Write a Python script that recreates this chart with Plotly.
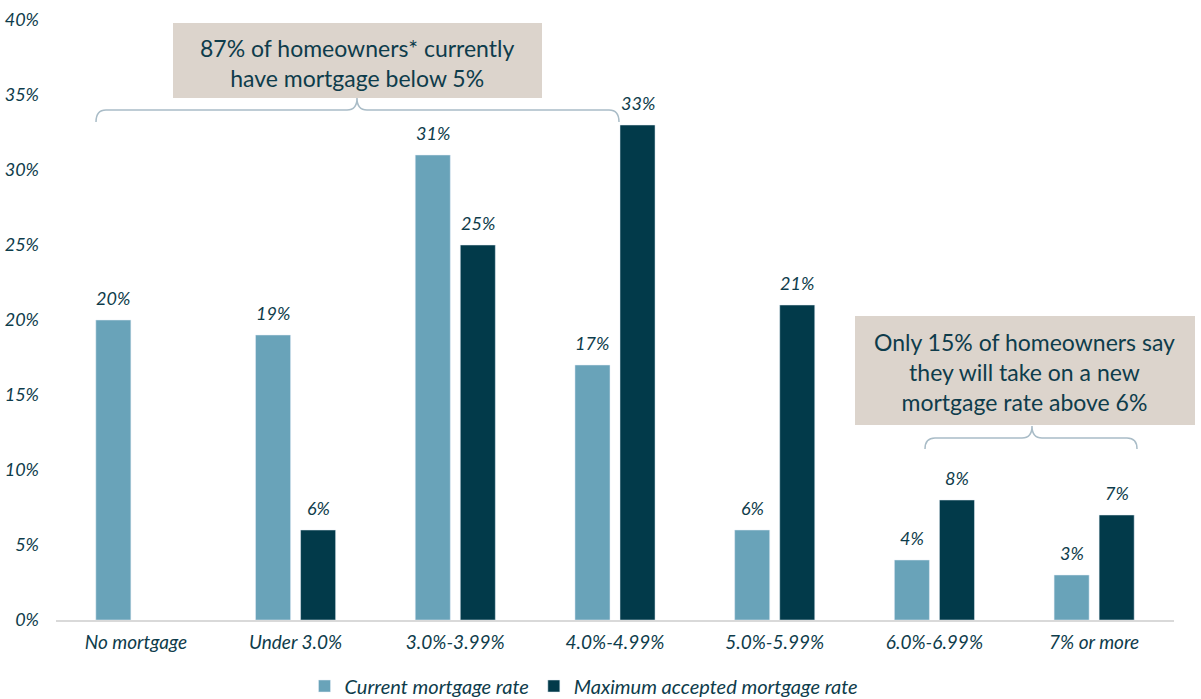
import plotly.graph_objects as go

categories = ["No mortgage", "Under 3.0%", "3.0%-3.99%", "4.0%-4.99%", "5.0%-5.99%", "6.0%-6.99%", "7% or more"]
current_rate = [20, 19, 31, 17, 6, 4, 3]
max_accepted = [None, 6, 25, 33, 21, 8, 7]
series_names = ["Current mortgage rate", "Maximum accepted mortgage rate"]
y_ticks = [0, 5, 10, 15, 20, 25, 30, 35, 40]
box1_text = "87% of homeowners* currently<br>have mortgage below 5%"
box2_text = "Only 15% of homeowners say<br>they will take on a new<br>mortgage rate above 6%"

LIGHT = "#69a3b9"
DARK = "#023a4a"
TEXT = "#0e3c4b"
BEIGE = "#dcd4cc"
BRACKET = "#a9bcc7"
FONT = "Lato"

W, H = 1201, 699
L, R, T, B = 56, 27, 20, 79
PW, PH = W - L - R, H - T - B
BARGAP = 0.436
BARGROUPGAP = 0.222


def px(x):
    return (x - L) / PW


def py(y):
    return (H - B - y) / PH


fig = go.Figure()
fig.add_trace(go.Bar(x=categories, y=current_rate, name=series_names[0], marker_color=LIGHT))
fig.add_trace(go.Bar(x=categories, y=max_accepted, name=series_names[1], marker_color=DARK))

# value labels as annotations placed from the data, offset to each bar of the group
slot = PW / len(categories) * (1 - BARGAP) / 2
annotations = []
for series, sgn in ((current_rate, -1), (max_accepted, 1)):
    for cat, v in zip(categories, series):
        if v is None:
            continue
        annotations.append(dict(
            x=cat, y=v, xref="x", yref="y", text=f"{v}%", showarrow=False,
            xanchor="center", yanchor="middle", xshift=sgn * slot / 2, yshift=22,
            font=dict(family=FONT, size=18, color=TEXT, style="italic"),
        ))


def bracket(x0, x1, xc, yb, ytip, yend, r=10):
    return (f"M {px(x0)},{py(yend)} Q {px(x0)},{py(yb)} {px(x0 + r)},{py(yb)} "
            f"L {px(xc - r)},{py(yb)} Q {px(xc)},{py(yb)} {px(xc)},{py(ytip)} "
            f"Q {px(xc)},{py(yb)} {px(xc + r)},{py(yb)} "
            f"L {px(x1 - r)},{py(yb)} Q {px(x1)},{py(yb)} {px(x1)},{py(yend)}")


shapes = [
    dict(type="rect", xref="paper", yref="paper", x0=px(173), x1=px(542), y0=py(98), y1=py(23),
         fillcolor=BEIGE, line=dict(width=0), layer="below"),
    dict(type="rect", xref="paper", yref="paper", x0=px(855), x1=px(1195), y0=py(425), y1=py(316),
         fillcolor=BEIGE, line=dict(width=0), layer="below"),
    dict(type="path", xref="paper", yref="paper", path=bracket(96, 619, 357, 110, 98, 122),
         line=dict(color=BRACKET, width=1.5)),
    dict(type="path", xref="paper", yref="paper", path=bracket(925, 1137, 1032, 438, 426, 449),
         line=dict(color=BRACKET, width=1.5)),
]

annotations += [
    dict(xref="paper", yref="paper", x=px(357), y=py(63), text=box1_text, showarrow=False,
         xanchor="center", yanchor="middle", font=dict(family=FONT, size=23, color=TEXT)),
    dict(xref="paper", yref="paper", x=px(1024), y=py(372), text=box2_text, showarrow=False,
         xanchor="center", yanchor="middle", font=dict(family=FONT, size=23, color=TEXT)),
]

fig.update_layout(
    width=W, height=H,
    margin=dict(l=L, r=R, t=T, b=B, pad=0, autoexpand=False),
    plot_bgcolor="white", paper_bgcolor="white",
    barmode="group", bargap=BARGAP, bargroupgap=BARGROUPGAP,
    shapes=shapes, annotations=annotations,
    showlegend=True,
    legend=dict(orientation="h", xref="container", yref="container",
                x=584 / W, xanchor="center", y=(H - 686) / H, yanchor="middle",
                font=dict(family=FONT, size=20, color=TEXT, style="italic"),
                itemwidth=30, traceorder="normal", tracegroupgap=0),
    font=dict(family=FONT, color=TEXT),
)
fig.update_yaxes(range=[0, 40], tickvals=y_ticks, ticktext=[f"{v}%" for v in y_ticks],
                 showgrid=False, zeroline=False, showline=False, ticks="",
                 ticklabelstandoff=16,
                 tickfont=dict(family=FONT, size=18, color=TEXT, style="italic"))
fig.update_xaxes(showgrid=False, showline=True, linecolor="#d9d9d9", linewidth=1.5, ticks="",
                 ticklabelstandoff=4,
                 tickfont=dict(family=FONT, size=19, color=TEXT, style="italic"))

fig.write_html("out.html", config={"displayModeBar": False},
               post_script="document.body.style.margin='0';document.body.style.overflow='hidden';")
